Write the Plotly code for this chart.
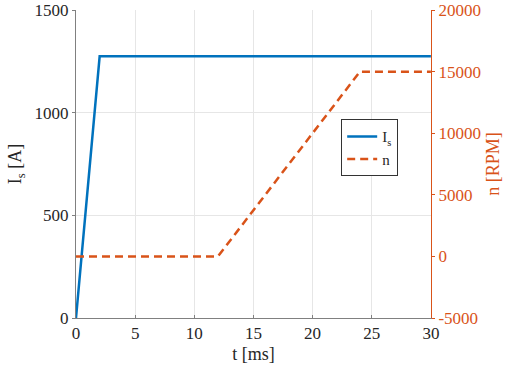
import plotly.graph_objects as go

t_is = [0, 2, 30]
is_vals = [0, 1275, 1275]
t_n = [0, 12, 24, 30]
n_vals = [0, 0, 15000, 15000]
x_ticks = [0, 5, 10, 15, 20, 25, 30]
is_ticks = [0, 500, 1000, 1500]
n_ticks = [-5000, 0, 5000, 10000, 15000, 20000]

blue = "#0072BD"
orange = "#D95319"
font = "Liberation Serif"
tf = dict(family=font, size=17, color="#262626")

fig = go.Figure()
fig.add_trace(go.Scatter(x=t_is, y=is_vals, mode="lines", name="I<sub>s</sub>",
                         line=dict(color=blue, width=2.5)))
fig.add_trace(go.Scatter(x=t_n, y=n_vals, mode="lines", name="n", yaxis="y2",
                         line=dict(color=orange, width=2.5, dash="8px,5px")))

fig.update_layout(
    width=512, height=367,
    margin=dict(l=76, r=81, t=10, b=49, autoexpand=False),
    plot_bgcolor="white", paper_bgcolor="white",
    font=dict(family=font, size=17, color="#262626"),
    showlegend=True,
    legend=dict(x=0.747, y=0.645, xanchor="left", yanchor="top",
                bgcolor="white", bordercolor="#333333", borderwidth=1,
                font=dict(family=font, size=15, color="#262626"),
                tracegroupgap=0, itemwidth=30),
    xaxis=dict(range=[0, 30.01], tickvals=x_ticks, ticktext=[str(v) for v in x_ticks],
               tickfont=tf, automargin=False, ticklabeloverflow="allow",
               showgrid=True, gridcolor="#E6E6E6", zeroline=False,
               showline=True, linecolor="#808080", linewidth=1,
               ticks="inside", ticklen=3, tickcolor="#808080",
               title=dict(text="t [ms]", standoff=4, font=dict(family=font, size=18))),
    yaxis=dict(range=[0, 1500.5], tickvals=is_ticks, ticktext=[str(v) for v in is_ticks],
               tickfont=tf, automargin=False, ticklabeloverflow="allow",
               showgrid=True, gridcolor="#E6E6E6", zeroline=False,
               showline=True, linecolor="#808080", linewidth=1,
               ticks="outside", ticklen=3, tickcolor="#808080",
               title=dict(text="I<sub>s</sub> [A]", standoff=8, font=dict(family=font, size=18))),
    yaxis2=dict(range=[-5000, 20005],
                tickvals=n_ticks, ticktext=[str(v) for v in n_ticks],
                overlaying="y", side="right", showgrid=False, zeroline=False,
                automargin=False, ticklabeloverflow="allow",
                showline=True, linecolor=orange, linewidth=1,
                ticks="outside", ticklen=3, tickcolor=orange,
                tickfont=dict(family=font, size=17, color=orange),
                title=dict(text="n [RPM]", font=dict(family=font, size=18, color=orange), standoff=6)),
)

fig.write_html("out.html", config={"displayModeBar": False},
               post_script="document.body.style.margin='0px';")
